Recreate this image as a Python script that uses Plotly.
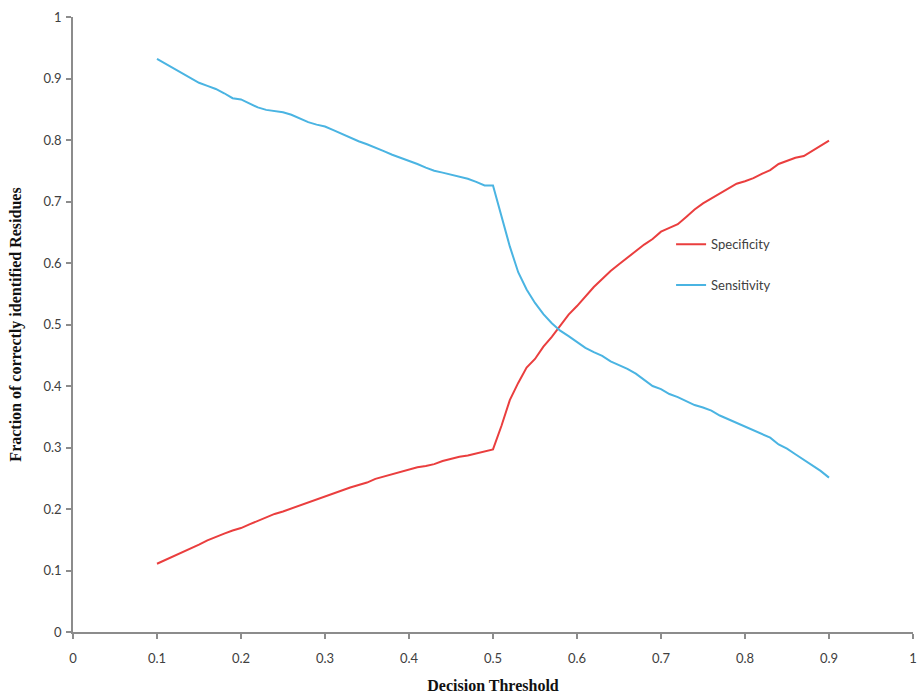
import plotly.graph_objects as go

thresholds = [round(0.10 + 0.01 * i, 2) for i in range(81)]

sensitivity = [
    0.932, 0.924, 0.916, 0.908, 0.901, 0.893, 0.888, 0.883, 0.876, 0.868,
    0.866, 0.860, 0.853, 0.849, 0.847, 0.845, 0.841, 0.835, 0.829, 0.825,
    0.822, 0.816, 0.810, 0.803, 0.798, 0.793, 0.788, 0.782, 0.776, 0.771,
    0.767, 0.761, 0.755, 0.750, 0.747, 0.744, 0.741, 0.737, 0.732, 0.726,
    0.726, 0.675, 0.627, 0.585, 0.557, 0.535, 0.517, 0.502, 0.490, 0.481,
    0.472, 0.462, 0.455, 0.449, 0.440, 0.434, 0.428, 0.420, 0.410, 0.400,
    0.395, 0.387, 0.382, 0.376, 0.369, 0.365, 0.360, 0.352, 0.346, 0.339,
    0.333, 0.327, 0.321, 0.316, 0.305, 0.298, 0.289, 0.280, 0.271, 0.262,
    0.251,
]

specificity = [
    0.111, 0.117, 0.123, 0.130, 0.136, 0.142, 0.149, 0.155, 0.160, 0.165,
    0.169, 0.175, 0.181, 0.187, 0.192, 0.196, 0.201, 0.206, 0.210, 0.215,
    0.220, 0.225, 0.230, 0.235, 0.239, 0.243, 0.249, 0.253, 0.257, 0.260,
    0.264, 0.268, 0.270, 0.273, 0.278, 0.282, 0.285, 0.287, 0.290, 0.293,
    0.297, 0.335, 0.377, 0.405, 0.430, 0.444, 0.464, 0.480, 0.499, 0.516,
    0.530, 0.546, 0.561, 0.574, 0.587, 0.598, 0.609, 0.619, 0.630, 0.639,
    0.651, 0.657, 0.663, 0.675, 0.687, 0.697, 0.705, 0.713, 0.721, 0.729,
    0.733, 0.738, 0.745, 0.751, 0.761, 0.766, 0.771, 0.774, 0.782, 0.790,
    0.799,
]

tick_vals = [round(0.1 * i, 1) for i in range(11)]
tick_text = ["0", "0.1", "0.2", "0.3", "0.4", "0.5", "0.6", "0.7", "0.8", "0.9", "1"]

fig = go.Figure()
fig.add_trace(go.Scatter(x=thresholds, y=specificity, mode="lines", name="Specificity",
                         legendgroup="a", line=dict(color="#EA3E3E", width=2)))
fig.add_trace(go.Scatter(x=thresholds, y=sensitivity, mode="lines", name="Sensitivity",
                         legendgroup="b", line=dict(color="#4AB4E2", width=2)))

axis_common = dict(
    range=[0, 1], tickvals=tick_vals, ticktext=tick_text, automargin=False,
    ticklabeloverflow="allow",
    showgrid=False, zeroline=False, showline=True, linecolor="#8C8C8C", linewidth=1.5,
    ticks="outside", ticklen=5, tickcolor="#8C8C8C", tickwidth=1.5,
    tickfont=dict(family="Lato, Open Sans, sans-serif", size=13, color="#404040"),
)

fig.update_layout(
    width=919, height=696,
    margin=dict(l=73, r=6, t=17, b=64),
    paper_bgcolor="white", plot_bgcolor="white",
    xaxis=dict(**axis_common, ticklabelstandoff=9,
               title=dict(text="<b>Decision Threshold</b>", standoff=14,
                          font=dict(family="Liberation Serif, Times New Roman, serif", size=16, color="#111"))),
    yaxis=dict(**axis_common, ticklabelstandoff=2,
               title=dict(text="<b>Fraction of correctly identified Residues</b>", standoff=18,
                          font=dict(family="Liberation Serif, Times New Roman, serif", size=16, color="#111"))),
    legend=dict(x=0.712, y=0.655, xanchor="left", yanchor="top", bgcolor="rgba(0,0,0,0)",
                tracegroupgap=21, itemwidth=30,
                font=dict(family="Lato, Open Sans, sans-serif", size=13, color="#404040")),
    showlegend=True,
)

fig.write_html(
    "out.html",
    config={"displayModeBar": False},
    post_script="document.body.style.margin='0px';document.body.style.overflow='hidden';",
)
